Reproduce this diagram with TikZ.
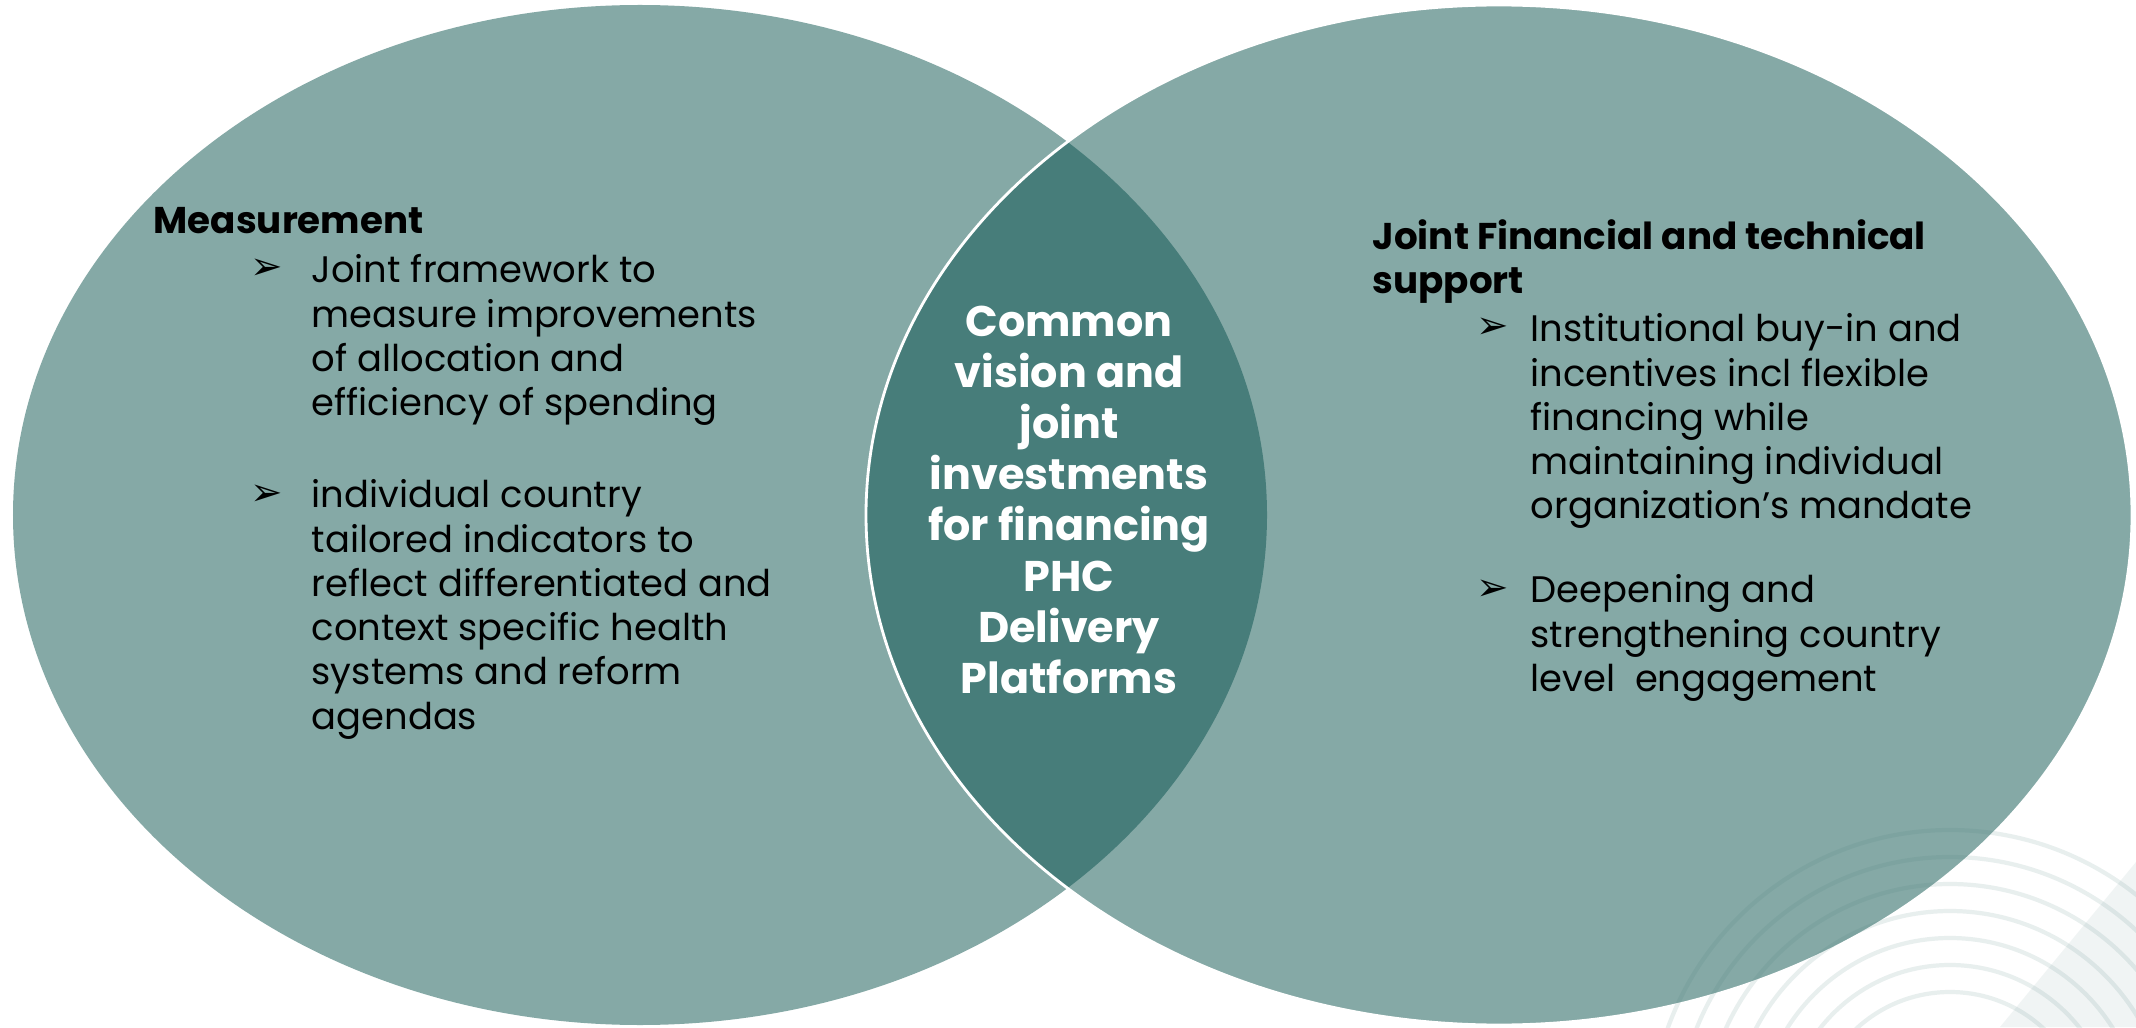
\documentclass[tikz,border=0pt]{standalone}
\usepackage{fontspec}
\setmainfont{Poppins}
\newfontfamily\arrowfont{DejaVu Sans}
\usetikzlibrary{positioning}
\definecolor{sage}{HTML}{85A9A6}
\definecolor{deepteal}{HTML}{477D7A}

\begin{document}
\begin{tikzpicture}[
  body/.style={font=\fontsize{10.5}{12.6}\selectfont, align=left, anchor=north west, inner sep=0pt},
  head/.style={body, font=\bfseries\fontsize{10.6}{12.4}\selectfont},
  tick/.style={font=\arrowfont\fontsize{11}{12}\selectfont, anchor=base west, inner sep=0pt},
  core/.style={font=\bfseries\fontsize{12.2}{14.5}\selectfont, align=center, text=white, inner sep=0pt}
]
\useasboundingbox (0,0) rectangle (21.36,10.27);
\fill[white] (0,0) rectangle (21.36,10.27);
\begin{scope}
\clip (0,0) rectangle (21.36,10.27);
\fill[sage] (6.40,5.12) ellipse [x radius=6.27, y radius=5.10];
\fill[sage] (14.99,5.12) ellipse [x radius=6.33, y radius=5.10];
\begin{scope}
\clip (6.40,5.12) ellipse [x radius=6.27, y radius=5.10];
\fill[deepteal] (14.99,5.12) ellipse [x radius=6.33, y radius=5.10];
\end{scope}
\draw[white, line width=0.8pt] (14.99,5.12) ellipse [x radius=6.33, y radius=5.10];
\fill[deepteal, opacity=0.08] (20.0,0) -- (21.36,1.65) -- (21.36,0) -- cycle;
\foreach \r in {1.38,1.65,...,3.1}
   \draw[deepteal, opacity=0.12, line width=1.2pt] (19.5,-1.03) circle (\r);
\end{scope}

\node[head] (measure) at (1.53,8.20) {Measurement};
\node[body] (frame) at (3.11,7.73) {Joint framework to\\measure improvements\\of allocation and\\efficiency of spending};
\node[tick] (frametick) at (2.50,7.47) {➢};
\node[body] (country) at (3.11,5.48) {individual country\\tailored indicators to\\reflect differentiated and\\context specific health\\systems and reform\\agendas};
\node[tick] (countrytick) at (2.50,5.22) {➢};

\node[core] (vision) at (10.69,5.27) {Common\\vision and\\joint\\investments\\for financing\\PHC\\Delivery\\Platforms};

\node[head] (support) at (13.72,8.08) {Joint Financial and technical\\support};
\node[body] (buyin) at (15.30,7.14) {Institutional buy-in and\\incentives incl flexible\\financing while\\maintaining individual\\organization’s mandate};
\node[tick] (buyintick) at (14.76,6.88) {➢};
\node[body] (deepen) at (15.30,4.53) {Deepening and\\strengthening country\\level~ engagement};
\node[tick] (deepentick) at (14.76,4.27) {➢};
\end{tikzpicture}
\end{document}
